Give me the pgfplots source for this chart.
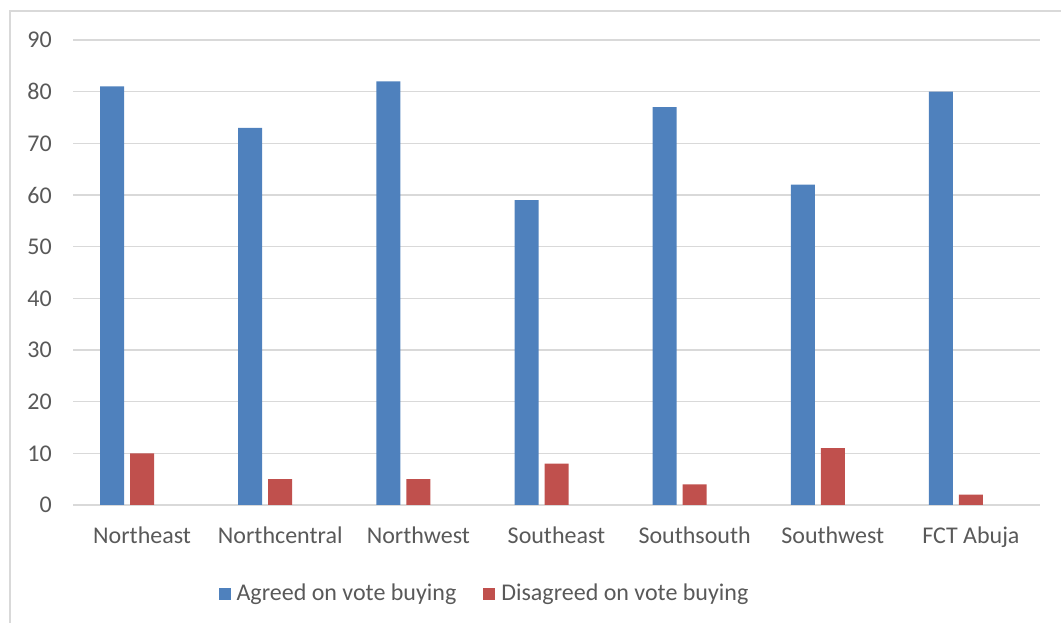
\documentclass[border=0pt]{standalone}
\usepackage{pgfplots}
\pgfplotsset{compat=1.18}
\usepackage{fontspec}
\setmainfont{Carlito}
\definecolor{agree}{HTML}{4F81BD}
\definecolor{disagree}{HTML}{C0504D}
\definecolor{gridc}{HTML}{D9D9D9}
\definecolor{txt}{HTML}{595959}
\begin{document}
\fontsize{24}{28}\selectfont
\begin{tikzpicture}
\useasboundingbox (0,0) rectangle (1061pt,623pt);
\draw[gridc, line width=1.5pt] (10pt,0pt) -- (10pt,612pt) -- (1061pt,612pt);
\begin{axis}[
  at={(73pt,118pt)}, anchor=south west,
  scale only axis, width=967pt, height=465pt,
  xmin=-0.5, xmax=6.5, ymin=0, ymax=90,
  ytick={0,10,...,90},
  xtick={0,...,6},
  xticklabels={Northeast,Northcentral,Northwest,Southeast,Southsouth,Southwest,FCT Abuja},
  axis line style={draw=none},
  major tick length=0pt,
  ymajorgrids, grid style={gridc, line width=1.5pt},
  /pgf/number format/assume math mode=true,
  tick label style={font=\fontsize{24}{28}\selectfont, text=txt},
  yticklabel style={anchor=east, inner sep=0pt, xshift=-21pt},
  xticklabel style={anchor=base, inner sep=0pt, yshift=-39pt},
  legend columns=2,
  legend style={at={(0.4245,-0.191)}, anchor=center, draw=none, fill=none,
    font=\fontsize{24}{28}\selectfont, text=txt,
    nodes={inner sep=0pt},
    column sep=6pt,
    /tikz/every even column/.append style={column sep=27pt}},
]
\addplot[ybar, fill=agree, draw=none, bar width=24pt, bar shift=-30pt,
  legend image code/.code={\fill[agree] (0pt,-6pt) rectangle (12pt,6pt);}]
  coordinates {(0,81) (1,73) (2,82) (3,59) (4,77) (5,62) (6,80)};
\addlegendentry{Agreed on vote buying}
\addplot[ybar, fill=disagree, draw=none, bar width=24pt, bar shift=0pt,
  legend image code/.code={\fill[disagree] (0pt,-6pt) rectangle (12pt,6pt);}]
  coordinates {(0,10) (1,5) (2,5) (3,8) (4,4) (5,11) (6,2)};
\addlegendentry{Disagreed on vote buying}
\end{axis}
\end{tikzpicture}
\end{document}
